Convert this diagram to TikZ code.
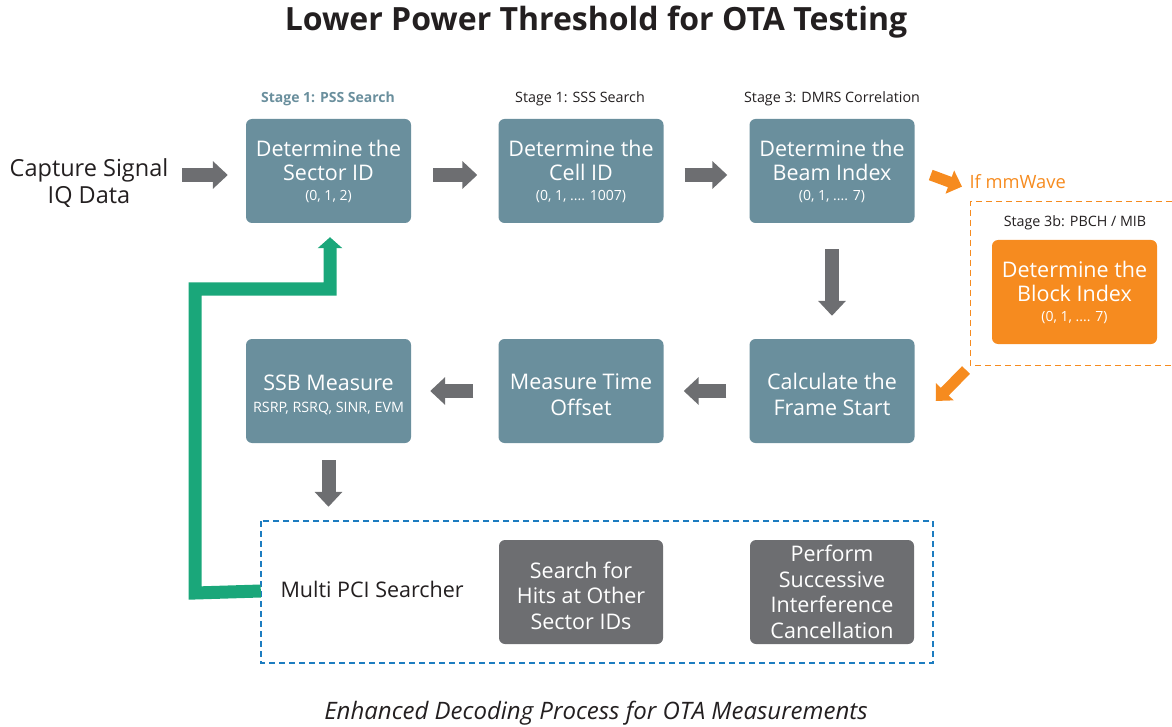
\documentclass[tikz,border=0pt]{standalone}
\usepackage{fontspec}
\setmainfont{Open Sans}
\usetikzlibrary{arrows.meta}
\definecolor{boxblue}{HTML}{6A8F9D}
\definecolor{arrgray}{HTML}{6D6E71}
\definecolor{orng}{HTML}{F68B1F}
\definecolor{grn}{HTML}{1AA77A}
\definecolor{dashblue}{HTML}{1C7CC0}
\definecolor{txt}{HTML}{231F20}
\begin{document}
\begin{tikzpicture}[x=1pt,y=-1pt,
  proc/.style={fill=boxblue, rounded corners=6pt, minimum width=165pt, minimum height=104pt,
    text=white, align=center, inner sep=0pt, font=\fontsize{21.5}{24}\selectfont},
  graybox/.style={proc, fill=arrgray, minimum width=164pt},
  orbox/.style={proc, fill=orng},
  stagelbl/.style={text=txt, font=\fontsize{14.3}{17}\selectfont},
  garrow/.style={draw=arrgray, line width=14pt, -{Triangle[length=15pt,width=27pt]}},
  oarrow/.style={draw=orng, line width=11pt, -{Triangle[length=13pt,width=24pt]}},
  lbl/.style={text=txt, align=center}
]
\useasboundingbox (0,0) rectangle (1172,727);

% title
\node[lbl, font=\fontsize{32}{36}\selectfont\bfseries] (title) at (596,22) {Lower Power Threshold for OTA Testing};

% stage labels
\node[stagelbl, text=boxblue, font=\fontsize{14}{17}\selectfont\bfseries] (s1) at (328,99) {Stage 1: PSS Search};
\node[stagelbl] (s2) at (580,99) {Stage 1: SSS Search};
\node[stagelbl] (s3) at (832,99) {Stage 3: DMRS Correlation};
\node[stagelbl] (s3b) at (1075,223) {Stage 3b: PBCH / MIB};

% capture
\node[lbl, font=\fontsize{23.5}{27}\selectfont] (cap) at (89,183) {Capture Signal\\IQ Data};

% top row
\node[proc] (b1) at (328.5,171) {Determine the\\Sector ID\\[-4pt]{\fontsize{14}{15}\selectfont (0, 1, 2)}};
\node[proc] (b2) at (581,171) {Determine the\\Cell ID\\[-4pt]{\fontsize{14}{15}\selectfont (0, 1, .... 1007)}};
\node[proc] (b3) at (832,171) {Determine the\\Beam Index\\[-4pt]{\fontsize{14}{15}\selectfont (0, 1, .... 7)}};

% orange region
\draw[orng, line width=1pt, dash pattern=on 6pt off 4pt] (1172,202) -- (970,202) -- (970,365) -- (1172,365);
\node[orbox] (ob) at (1074.5,292) {Determine the\\Block Index\\[-4pt]{\fontsize{14}{15}\selectfont (0, 1, .... 7)}};
\node[text=orng, anchor=west, font=\fontsize{18.3}{21}\selectfont] (mm) at (966,182) {If mmWave};

% second row
\node[proc] (b4) at (328.5,391) {\rule{0pt}{24pt}SSB Measure\\[-2pt]{\fontsize{14.3}{16}\selectfont RSRP, RSRQ, SINR, EVM}};
\node[proc, font=\fontsize{21.5}{26}\selectfont] (b5) at (581,391) {\rule{0pt}{24pt}Measure Time\\Offset};
\node[proc, font=\fontsize{21.5}{26}\selectfont] (b6) at (832,391) {\rule{0pt}{24pt}Calculate the\\Frame Start};

% multi PCI
\coordinate (mtl) at (261,521);
\coordinate (mbr) at (933,663);
\draw[draw=dashblue, line width=1.2pt, dash pattern=on 6pt off 4pt] (mtl) rectangle (mbr);
\node[inner sep=0pt, minimum width=672pt, minimum height=142pt] (multi) at (597,592) {};
\node[lbl, anchor=west, font=\fontsize{21.5}{24}\selectfont] (mlbl) at (277,589) {Multi PCI Searcher};
\node[graybox, font=\fontsize{21.5}{25.7}\selectfont] (g1) at (581,592) {\rule{0pt}{24pt}Search for\\Hits at Other\\Sector IDs};
\node[graybox, font=\fontsize{21.5}{25.7}\selectfont] (g2) at (832,592) {Perform\\Successive\\Interference\\Cancellation};

% gray arrows
\draw[garrow] (182,175) coordinate (c0) -- ([xshift=-18pt,yshift=-4pt]b1.west);
\draw[garrow] ([xshift=22pt,yshift=-4pt]b1.east) -- ([xshift=-21pt,yshift=-4pt]b2.west);
\draw[garrow] ([xshift=21pt,yshift=-4pt]b2.east) -- ([xshift=-22pt,yshift=-4pt]b3.west);
\draw[garrow] ([yshift=-26pt]b3.south) -- ([yshift=23pt]b6.north);
\draw[garrow] ([xshift=-23pt]b6.west) -- ([xshift=20pt]b5.east);
\draw[garrow] ([xshift=-25pt]b5.west) -- ([xshift=19pt]b4.east);
\draw[garrow] ([yshift=-17pt]b4.south) -- ([yshift=14pt]multi.north -| b4.south);

% orange arrows
\draw[oarrow] ([xshift=16pt,yshift=-4pt]b3.east) -- ([xshift=-4pt,yshift=6pt]mm.south west);
\draw[oarrow] (966,370) coordinate (o1) -- ([xshift=21pt,yshift=-10pt]b6.east);

% green loop
\draw[grn, line width=13pt, -{Triangle[length=11pt,width=24pt]}]
  ([yshift=1pt]multi.west) -- (195,593) -- (195,289) -- (330,289) -- ([xshift=1.5pt,yshift=-14pt]b1.south);

% caption
\node[lbl, font=\fontsize{24}{28}\selectfont\itshape] (capt) at (596,713) {Enhanced Decoding Process for OTA Measurements};
\end{tikzpicture}
\end{document}
